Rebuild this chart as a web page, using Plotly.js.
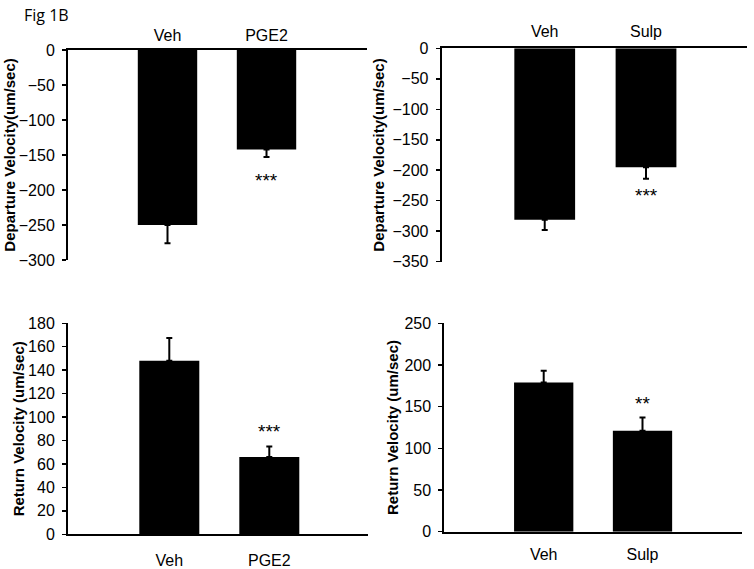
<!DOCTYPE html>
<html>
<head>
<meta charset="utf-8">
<script src="https://cdn.plot.ly/plotly-3.0.1.min.js"></script>
<style>html,body{margin:0;padding:0;background:#fff;}#chart{width:754px;height:569px;}</style>
</head>
<body>
<div id="chart"></div>
<script>
// ---- data ----
const catsPGE = ["Veh", "PGE2"];
const catsSulp = ["Veh", "Sulp"];

const depPGE = [-250, -142];
const depPGEErr = [26, 11];
const depPGESig = ["", "***"];

const depSulp = [-281, -195];
const depSulpErr = [17, 19];
const depSulpSig = ["", "***"];

const retPGE = [148, 66];
const retPGEErr = [19.5, 9];
const retPGESig = ["", "***"];

const retSulp = [179, 121];
const retSulpErr = [14, 16];
const retSulpSig = ["", "**"];

const figLabel = "Fig 1B";
const depTitle = "Departure Velocity(um/sec)";
const retTitle = "Return Velocity (um/sec)";

// ---- styling helpers ----
const FONT = "'Liberation Sans', Arial, sans-serif";
const W = 754, H = 569;
const px = v => v / W;
const py = v => (H - v) / H;

function barTrace(cats, vals, errs, xa, ya, down) {
  return {
    type: "bar", x: cats, y: vals, xaxis: xa, yaxis: ya,
    width: 0.6,
    marker: {color: "#000", line: {width: 0}},
    error_y: down
      ? {type: "data", symmetric: false, array: errs.map(() => 0), arrayminus: errs, color: "#000", thickness: 2, width: 3}
      : {type: "data", symmetric: false, array: errs, arrayminus: errs.map(() => 0), color: "#000", thickness: 2, width: 3},
    hoverinfo: "skip", showlegend: false
  };
}

function sigAnn(cats, vals, errs, sig, xa, ya, down, shift) {
  const out = [];
  cats.forEach((c, i) => {
    if (!sig[i]) return;
    out.push({
      xref: xa, yref: ya, x: c,
      y: down ? vals[i] - errs[i] : vals[i] + errs[i],
      text: sig[i], showarrow: false, yanchor: "middle",
      yshift: shift, font: {family: FONT, size: 19, color: "#000"}
    });
  });
  return out;
}

function xAxis(domain, range, side, anchor, standoff) {
  return {
    domain: domain, range: range, type: "category", side: side, anchor: anchor,
    showline: true, linecolor: "#000", linewidth: 2, ticks: "", showgrid: false,
    zeroline: false, fixedrange: true, ticklabelstandoff: standoff,
    tickfont: {family: FONT, size: 16, color: "#000"}
  };
}

function yAxis(domain, range, dtick, anchor, title, standoff) {
  return {
    domain: domain, range: range, dtick: dtick, anchor: anchor,
    showline: true, linecolor: "#000", linewidth: 2, ticks: "outside", ticklen: 4, tickwidth: 1.5, tickcolor: "#000",
    showgrid: false, zeroline: false, fixedrange: true, ticklabelstandoff: 4,
    tickfont: {family: FONT, size: 16, color: "#000"},
    title: {text: title, standoff: standoff, font: {family: FONT, size: 15, color: "#000", weight: "bold"}}
  };
}

const data = [
  barTrace(catsPGE, depPGE, depPGEErr, "x", "y", true),
  barTrace(catsSulp, depSulp, depSulpErr, "x2", "y2", true),
  barTrace(catsPGE, retPGE, retPGEErr, "x3", "y3", false),
  barTrace(catsSulp, retSulp, retSulpErr, "x4", "y4", false)
];

const layout = {
  width: W, height: H,
  margin: {l: 0, r: 0, t: 0, b: 0},
  paper_bgcolor: "#fff", plot_bgcolor: "#fff",
  showlegend: false,
  bargap: 0.4,
  xaxis: xAxis([px(68), px(367)], [-1.005, 2.015], "top", "y", 1),
  yaxis: yAxis([py(260), py(50)], [-300, 0], 50, "x", depTitle, 0),
  xaxis2: xAxis([px(441.7), px(746.7)], [-1.017, 1.994], "top", "y2", 3),
  yaxis2: yAxis([py(261.7), py(48.3)], [-350, 0], 50, "x2", depTitle, 4),
  xaxis3: xAxis([px(68), px(368.3)], [-1.013, 1.99], "bottom", "y3", 10),
  yaxis3: yAxis([py(534.3), py(323.3)], [0, 180], 20, "x3", retTitle, 0),
  xaxis4: xAxis([px(444.3), px(741.7)], [-1.006, 2.004], "bottom", "y4", 7),
  yaxis4: yAxis([py(531.7), py(323.3)], [0, 250], 50, "x4", retTitle, 2),
  annotations: [
    {xref: "paper", yref: "paper", x: px(22), y: py(2), xanchor: "left", yanchor: "top",
     text: figLabel, showarrow: false, font: {family: "'Open Sans', sans-serif", size: 16, color: "#000"}},
    ...sigAnn(catsPGE, depPGE, depPGEErr, depPGESig, "x", "y", true, -23),
    ...sigAnn(catsSulp, depSulp, depSulpErr, depSulpSig, "x2", "y2", true, -17),
    ...sigAnn(catsPGE, retPGE, retPGEErr, retPGESig, "x3", "y3", false, 15),
    ...sigAnn(catsSulp, retSulp, retSulpErr, retSulpSig, "x4", "y4", false, 14)
  ]
};

Plotly.newPlot("chart", data, layout, {staticPlot: true, displayModeBar: false});
</script>
</body>
</html>
